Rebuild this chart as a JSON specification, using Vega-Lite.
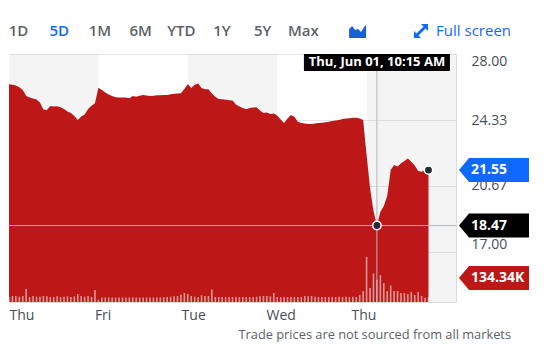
{
  "$schema": "https://vega.github.io/schema/vega-lite/v6.json",
  "padding": {"left": 8, "top": 19, "right": 0, "bottom": 0},
  "background": "#ffffff",
  "spacing": 11,
  "bounds": "flush",
  "config": {"view": {"stroke": null}, "font": "Open Sans"},
  "datasets": {
    "toolbar": [
      {"item": "1D"}, {"item": "5D"}, {"item": "1M"}, {"item": "6M"}, {"item": "YTD"},
      {"item": "1Y"}, {"item": "5Y"}, {"item": "Max"}, {"item": "icon"}, {"item": "Full screen"}
    ],
    "days": [
      {"d": 0, "s": 0, "e": 1}, {"d": 1, "s": 1, "e": 2}, {"d": 2, "s": 2, "e": 3},
      {"d": 3, "s": 3, "e": 4}, {"d": 4, "s": 4, "e": 5}
    ],
    "prices": [
      {"t": 0, "p": 26.32, "v": 133}, {"t": 0.0385, "p": 26.29, "v": 160}, {"t": 0.0769, "p": 26.25, "v": 160},
      {"t": 0.1154, "p": 26.15, "v": 140}, {"t": 0.1538, "p": 26.0, "v": 160}, {"t": 0.1923, "p": 25.67, "v": 346},
      {"t": 0.2308, "p": 25.59, "v": 133}, {"t": 0.2692, "p": 25.53, "v": 160}, {"t": 0.3077, "p": 25.47, "v": 140},
      {"t": 0.3462, "p": 25.31, "v": 140}, {"t": 0.3846, "p": 24.92, "v": 160}, {"t": 0.4231, "p": 24.89, "v": 150},
      {"t": 0.4615, "p": 25.11, "v": 133}, {"t": 0.5, "p": 25.08, "v": 133}, {"t": 0.5385, "p": 25.1, "v": 150},
      {"t": 0.5769, "p": 25.04, "v": 133}, {"t": 0.6154, "p": 24.94, "v": 140}, {"t": 0.6538, "p": 24.81, "v": 150},
      {"t": 0.6923, "p": 24.72, "v": 133}, {"t": 0.7308, "p": 24.56, "v": 150}, {"t": 0.7692, "p": 24.33, "v": 213},
      {"t": 0.8077, "p": 24.53, "v": 160}, {"t": 0.8462, "p": 24.64, "v": 140}, {"t": 0.8846, "p": 24.94, "v": 160},
      {"t": 0.9231, "p": 25.12, "v": 133}, {"t": 0.9615, "p": 25.27, "v": 319},
      {"t": 1, "p": 26.13, "v": 60}, {"t": 1.0385, "p": 26.0, "v": 120}, {"t": 1.0769, "p": 25.86, "v": 120},
      {"t": 1.1154, "p": 25.75, "v": 120}, {"t": 1.1538, "p": 25.67, "v": 120}, {"t": 1.1923, "p": 25.6, "v": 120},
      {"t": 1.2308, "p": 25.58, "v": 120}, {"t": 1.2692, "p": 25.58, "v": 120}, {"t": 1.3077, "p": 25.58, "v": 120},
      {"t": 1.3462, "p": 25.54, "v": 120}, {"t": 1.3846, "p": 25.67, "v": 120}, {"t": 1.4231, "p": 25.63, "v": 120},
      {"t": 1.4615, "p": 25.68, "v": 120}, {"t": 1.5, "p": 25.72, "v": 120}, {"t": 1.5385, "p": 25.69, "v": 120},
      {"t": 1.5769, "p": 25.67, "v": 120}, {"t": 1.6154, "p": 25.68, "v": 120}, {"t": 1.6538, "p": 25.71, "v": 120},
      {"t": 1.6923, "p": 25.71, "v": 120}, {"t": 1.7308, "p": 25.72, "v": 130}, {"t": 1.7692, "p": 25.72, "v": 130},
      {"t": 1.8077, "p": 25.76, "v": 140}, {"t": 1.8462, "p": 25.79, "v": 150}, {"t": 1.8846, "p": 25.81, "v": 160},
      {"t": 1.9231, "p": 25.82, "v": 190}, {"t": 1.9615, "p": 26.06, "v": 240},
      {"t": 2, "p": 26.33, "v": 213}, {"t": 2.0385, "p": 26.11, "v": 160}, {"t": 2.0769, "p": 26.29, "v": 140},
      {"t": 2.1154, "p": 26.36, "v": 133}, {"t": 2.1538, "p": 26.11, "v": 180}, {"t": 2.1923, "p": 26.04, "v": 160},
      {"t": 2.2308, "p": 26.04, "v": 160}, {"t": 2.2692, "p": 25.81, "v": 330}, {"t": 2.3077, "p": 25.62, "v": 133},
      {"t": 2.3462, "p": 25.5, "v": 133}, {"t": 2.3846, "p": 25.48, "v": 133}, {"t": 2.4231, "p": 25.46, "v": 133},
      {"t": 2.4615, "p": 25.43, "v": 133}, {"t": 2.5, "p": 25.41, "v": 133}, {"t": 2.5385, "p": 25.19, "v": 133},
      {"t": 2.5769, "p": 25.08, "v": 133}, {"t": 2.6154, "p": 25.0, "v": 133}, {"t": 2.6538, "p": 24.93, "v": 133},
      {"t": 2.6923, "p": 25.0, "v": 133}, {"t": 2.7308, "p": 25.03, "v": 133}, {"t": 2.7692, "p": 25.04, "v": 140},
      {"t": 2.8077, "p": 24.86, "v": 150}, {"t": 2.8462, "p": 24.72, "v": 160}, {"t": 2.8846, "p": 24.75, "v": 160},
      {"t": 2.9231, "p": 24.67, "v": 150}, {"t": 2.9615, "p": 24.69, "v": 240},
      {"t": 3, "p": 24.58, "v": 133}, {"t": 3.0385, "p": 24.36, "v": 133}, {"t": 3.0769, "p": 24.17, "v": 133},
      {"t": 3.1154, "p": 24.42, "v": 133}, {"t": 3.1538, "p": 24.61, "v": 133}, {"t": 3.1923, "p": 24.51, "v": 133},
      {"t": 3.2308, "p": 24.24, "v": 133}, {"t": 3.2692, "p": 24.17, "v": 133}, {"t": 3.3077, "p": 24.14, "v": 160},
      {"t": 3.3462, "p": 24.11, "v": 150}, {"t": 3.3846, "p": 24.11, "v": 160}, {"t": 3.4231, "p": 24.14, "v": 140},
      {"t": 3.4615, "p": 24.17, "v": 133}, {"t": 3.5, "p": 24.18, "v": 133}, {"t": 3.5385, "p": 24.21, "v": 133},
      {"t": 3.5769, "p": 24.23, "v": 133}, {"t": 3.6154, "p": 24.28, "v": 133}, {"t": 3.6538, "p": 24.31, "v": 133},
      {"t": 3.6923, "p": 24.34, "v": 140}, {"t": 3.7308, "p": 24.39, "v": 133}, {"t": 3.7692, "p": 24.42, "v": 140},
      {"t": 3.8077, "p": 24.43, "v": 133}, {"t": 3.8462, "p": 24.46, "v": 140}, {"t": 3.8846, "p": 24.46, "v": 133},
      {"t": 3.9231, "p": 24.42, "v": 190}, {"t": 3.9615, "p": 24.33, "v": 290},
      {"t": 4, "p": 22.39, "v": 1200}, {"t": 4.0385, "p": 20.56, "v": 370}, {"t": 4.0769, "p": 19.28, "v": 760},
      {"t": 4.1154, "p": 18.47, "v": 590}, {"t": 4.1538, "p": 19.22, "v": 720}, {"t": 4.1923, "p": 19.56, "v": 505},
      {"t": 4.2308, "p": 20.11, "v": 290}, {"t": 4.2692, "p": 21.56, "v": 440}, {"t": 4.3077, "p": 21.83, "v": 290},
      {"t": 4.3462, "p": 21.75, "v": 290}, {"t": 4.3846, "p": 21.93, "v": 240}, {"t": 4.4231, "p": 22.06, "v": 240},
      {"t": 4.4615, "p": 22.19, "v": 213}, {"t": 4.5, "p": 22.02, "v": 266}, {"t": 4.5385, "p": 21.81, "v": 186},
      {"t": 4.5769, "p": 21.5, "v": 266}, {"t": 4.6154, "p": 21.46, "v": 160}, {"t": 4.6538, "p": 21.56, "v": 110},
      {"t": 4.6923, "p": 21.55, "v": 134.34}
    ]
  },
  "vconcat": [
    {
      "width": 502,
      "height": 24,
      "data": {"name": "toolbar"},
      "layer": [
        {
          "transform": [{"filter": "datum.item != 'icon' && datum.item != 'Full screen'"}],
          "mark": {"type": "text", "fontSize": 15, "fontWeight": 600, "baseline": "middle", "align": "center"},
          "encoding": {
            "x": {"field": "item", "type": "ordinal", "sort": null,
              "scale": {"type": "point", "domain": ["1D", "5D", "1M", "6M", "YTD", "1Y", "5Y", "Max", "icon", "_1", "_2", "_3"], "padding": 0.667, "align": 0.175},
              "axis": null},
            "text": {"field": "item"},
            "color": {"condition": {"test": "datum.item == '5D'", "value": "#0f69ff"}, "value": "#5b636a"}
          }
        },
        {
          "transform": [{"filter": "datum.item == 'icon'"}],
          "mark": {"type": "point", "filled": true, "size": 4, "color": "#1a5fd6", "opacity": 1,
            "shape": "M5,7 L5,-2 L8,-5 L11,-1 L14,-2 L17,1 L20,-4 L22,-6 L22,7 Z"},
          "encoding": {
            "x": {"field": "item", "type": "ordinal", "sort": null,
              "scale": {"type": "point", "domain": ["1D", "5D", "1M", "6M", "YTD", "1Y", "5Y", "Max", "icon", "_1", "_2", "_3"], "padding": 0.667, "align": 0.175},
              "axis": null}
          }
        },
        {
          "transform": [{"filter": "datum.item == 'Full screen'"}],
          "mark": {"type": "point", "filled": true, "size": 4, "color": "#0f69ff", "opacity": 1,
            "shape": "M-83,-7 L-90,-7 L-87.5,-4.5 L-94.5,2.5 L-97,0 L-97,7 L-90,7 L-92.5,4.5 L-85.5,-2.5 L-83,0 Z"},
          "encoding": {
            "x": {"value": "width"}
          }
        },
        {
          "transform": [{"filter": "datum.item == 'Full screen'"}],
          "mark": {"type": "text", "fontSize": 15, "fontWeight": 400, "baseline": "middle", "align": "right", "color": "#0f69ff"},
          "encoding": {
            "x": {"value": "width"},
            "text": {"field": "item"}
          }
        }
      ]
    },
    {
      "width": 447,
      "height": 248,
      "title": {"text": "Trade prices are not sourced from all markets", "orient": "bottom", "anchor": "end", "frame": "group",
        "dx": 55, "offset": 7, "fontSize": 12.8, "fontWeight": "normal", "color": "#5b636a", "font": "Open Sans"},
      "layer": [
        {
          "layer": [
            {
              "data": {"name": "days"},
              "mark": {"type": "rect", "fill": "#000000"},
              "encoding": {
                "x": {"field": "s", "type": "quantitative", "scale": {"domain": [0, 5], "nice": false, "zero": false, "padding": 0}},
                "x2": {"field": "e"},
                "opacity": {"condition": {"test": "datum.d % 2 == 0", "value": 0.045}, "value": 0}
              }
            },
            {
              "data": {"name": "prices"},
              "mark": {"type": "area", "color": "#bd1717", "opacity": 1},
              "encoding": {
                "x": {"field": "t", "type": "quantitative", "scale": {"domain": [0, 5], "nice": false, "zero": false, "padding": 0},
                  "axis": {"title": null, "values": [0, 0.955, 1.925, 2.875, 3.825],
                    "labelExpr": "datum.value < 0.5 ? 'Thu' : datum.value < 1.5 ? 'Fri' : datum.value < 2.5 ? 'Tue' : datum.value < 3.5 ? 'Wed' : 'Thu'",
                    "labelAlign": "left", "labelFlush": false, "labelPadding": 6, "labelFontSize": 14, "labelColor": "#464e56",
                    "ticks": false, "grid": false, "domainColor": "#dcdcdc", "labelFont": "Open Sans"}},
                "y": {"field": "p", "type": "quantitative", "scale": {"domain": [14.222, 28], "nice": false, "zero": false, "clamp": true},
                  "axis": {"title": null, "orient": "right", "values": [17, 20.67, 24.33, 28], "format": ".2f",
                    "labelPadding": 15, "labelFontSize": 14, "labelColor": "#464e56", "labelFont": "Open Sans", "ticks": false,
                    "grid": true, "gridColor": "#e6e6e6", "domainColor": "#dcdcdc", "labelAlign": "left",
                    "labelBaseline": {"condition": [{"test": "datum.value >= 27.9", "value": "top"}, {"test": "datum.value <= 17.1", "value": "bottom"}], "value": "middle"}}}
              }
            }
          ]
        },
        {
          "data": {"name": "prices"},
          "layer": [
            {
              "mark": {"type": "bar", "width": 1.6, "fill": "#ffffff", "opacity": 0.55},
              "encoding": {
                "x": {"field": "t", "type": "quantitative", "scale": {"domain": [0, 5], "nice": false, "zero": false, "padding": 0}},
                "y": {"field": "v", "type": "quantitative", "scale": {"domain": [0, 6600], "nice": false}, "axis": null}
              }
            },
            {
              "transform": [{"filter": "datum.t == 4.6923"}],
              "mark": {"type": "point", "filled": true, "size": 4, "color": "#bd1717", "opacity": 1,
                "shape": "M3,-19 L13,-31 L73,-31 L73,-7 L13,-7 Z"},
              "encoding": {
                "x": {"value": "width"},
                "y": {"field": "v", "type": "quantitative", "scale": {"domain": [0, 6600], "nice": false}, "axis": null}
              }
            },
            {
              "transform": [{"filter": "datum.t == 4.6923"}, {"calculate": "format(datum.v, '.2f') + 'K'", "as": "vl"}],
              "mark": {"type": "text", "color": "#ffffff", "fontSize": 14, "fontWeight": "bold", "align": "left", "baseline": "middle", "dx": 15, "dy": -19},
              "encoding": {
                "x": {"value": "width"},
                "y": {"field": "v", "type": "quantitative", "scale": {"domain": [0, 6600], "nice": false}, "axis": null},
                "text": {"field": "vl"}
              }
            }
          ]
        },
        {
          "data": {"name": "prices"},
          "layer": [
            {
              "transform": [{"filter": "datum.t == 4.1154"}],
              "mark": {"type": "rule", "color": "#b0b8c1", "strokeWidth": 1},
              "encoding": {
                "x": {"field": "t", "type": "quantitative", "scale": {"domain": [0, 5], "nice": false, "zero": false, "padding": 0}}
              }
            },
            {
              "transform": [{"filter": "datum.t == 4.1154"}],
              "mark": {"type": "rule", "color": "#b0b8c1", "strokeWidth": 1},
              "encoding": {
                "y": {"field": "p", "type": "quantitative", "scale": {"domain": [14.222, 28], "nice": false, "zero": false}, "axis": null}
              }
            },
            {
              "transform": [{"filter": "datum.t == 4.1154 || datum.t == 4.6923"}],
              "mark": {"type": "point", "filled": true, "size": 70, "fill": "#232a31", "stroke": "#ffffff", "strokeWidth": 1.5, "opacity": 1},
              "encoding": {
                "x": {"field": "t", "type": "quantitative", "scale": {"domain": [0, 5], "nice": false, "zero": false, "padding": 0}},
                "y": {"field": "p", "type": "quantitative", "scale": {"domain": [14.222, 28], "nice": false, "zero": false}, "axis": null}
              }
            },
            {
              "transform": [{"filter": "datum.t == 4.1154"}],
              "mark": {"type": "point", "filled": true, "size": 4, "color": "#000000", "opacity": 1,
                "shape": "M-73,0 L73,0 L73,17 L-73,17 Z"},
              "encoding": {
                "x": {"field": "t", "type": "quantitative", "scale": {"domain": [0, 5], "nice": false, "zero": false, "padding": 0}},
                "y": {"datum": 28, "type": "quantitative", "scale": {"domain": [14.222, 28], "nice": false, "zero": false}, "axis": null}
              }
            },
            {
              "transform": [{"filter": "datum.t == 4.1154"}],
              "mark": {"type": "text", "color": "#ffffff", "fontSize": 13, "fontWeight": "bold", "align": "center", "baseline": "middle", "dy": 8},
              "encoding": {
                "x": {"field": "t", "type": "quantitative", "scale": {"domain": [0, 5], "nice": false, "zero": false, "padding": 0}},
                "y": {"datum": 28, "type": "quantitative", "scale": {"domain": [14.222, 28], "nice": false, "zero": false}, "axis": null},
                "text": {"value": "Thu, Jun 01, 10:15 AM"}
              }
            },
            {
              "transform": [{"filter": "datum.t == 4.1154 || datum.t == 4.6923"}],
              "mark": {"type": "point", "filled": true, "size": 4, "opacity": 1,
                "shape": "M3,0 L13,-12 L73,-12 L73,12 L13,12 Z"},
              "encoding": {
                "x": {"value": "width"},
                "y": {"field": "p", "type": "quantitative", "scale": {"domain": [14.222, 28], "nice": false, "zero": false}, "axis": null},
                "color": {"condition": {"test": "datum.t == 4.6923", "value": "#0f69ff"}, "value": "#000000"}
              }
            },
            {
              "transform": [{"filter": "datum.t == 4.1154 || datum.t == 4.6923"}],
              "mark": {"type": "text", "color": "#ffffff", "fontSize": 14, "fontWeight": "bold", "align": "left", "baseline": "middle", "dx": 15},
              "encoding": {
                "x": {"value": "width"},
                "y": {"field": "p", "type": "quantitative", "scale": {"domain": [14.222, 28], "nice": false, "zero": false}, "axis": null},
                "text": {"field": "p", "format": ".2f"}
              }
            }
          ]
        }
      ],
      "resolve": {"scale": {"y": "independent"}}
    }
  ]
}
